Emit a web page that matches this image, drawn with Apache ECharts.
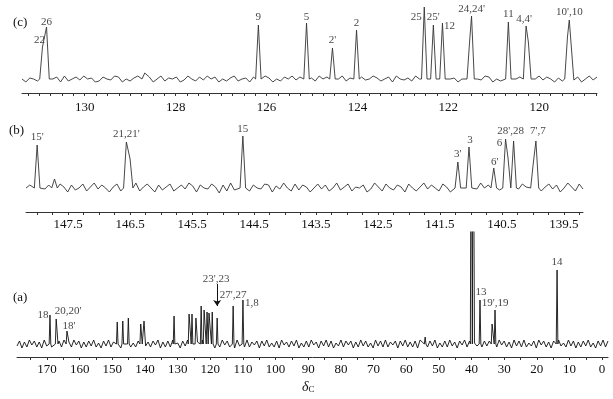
<!DOCTYPE html>
<html>
<head>
<meta charset="utf-8">
<script src="https://cdn.jsdelivr.net/npm/echarts@6/dist/echarts.min.js"></script>
<style>
  html, body { margin: 0; padding: 0; background: #fff; }
  #chart { width: 613px; height: 399px; }
</style>
</head>
<body>
<div id="chart"></div>
<script>
// ---- panel (c): 118.7 - 131.4 ppm ----
const cRange = [118.73, 131.38];
const cTickLabels = [130, 128, 126, 124, 122, 120];
const cPeaks = [
  [130.93, 32], [130.84, 52], [128.68, 6], [126.18, 54], [125.12, 56], [124.55, 31],
  [124.02, 49], [122.53, 72], [122.33, 54], [122.13, 56], [121.53, 39], [121.49, 63],
  [120.68, 57], [120.29, 53], [120.24, 37], [119.38, 42], [119.34, 59]
];
const cNames = ['22', '26', '', '9', '5', "2'", '2', '25', "25'", '12', '', "24,24'", '11', "4,4'", '', '', "10',10"];
const cNoise = [2,-1,3,0,-3,2,-1,0,3,-2,1,-3,0,2,-1,3,0,-2,1,-3,2,0,-2,3,1,-2,0,-3,2,3,-1,0,2,-2,3,0,-3,1,0,-2,
  2,3,-1,0,-3,2,0,3,-2,1,-1,0,3,-3,2,0,-2,1,3,0,-1,2,-3,0,1,-2,3,0,-1,-3,2,0,3,-2,1,0,-3,2,-1,3,
  0,2,-2,0,-3,1,3,-1,0,2,-3,1,0,-2,3,1,-2,0,-3,2,0,3,-1,2,-2,0,3,-1,-3,2,0,1,-2,3,0,-3,2,-1,0,3,
  1,-2,0,-3,2,3,-1,0,2,-2,-3,1,0,3,-1,2,0,-2,3,-3,2,0,-1,2,3,-2,0,1,-3,0];

// ---- panel (b): 139.2 - 148.2 ppm ----
const bRange = [139.19, 148.18];
const bTickLabels = [147.5, 146.5, 145.5, 144.5, 143.5, 142.5, 141.5, 140.5, 139.5];
const bPeaks = [
  [148.0, 43], [147.72, 9], [146.56, 46], [146.5, 29], [144.68, 52], [141.21, 26],
  [141.03, 41], [140.63, 20], [140.44, 49], [140.4, 30], [140.31, 47], [139.99, 26], [139.95, 47]
];
const bNames = ["15'", '', "21,21'", '', '15', "3'", '3', "6'", '6', '', "28',28", '', "7',7"];
const bNoise = [-1,4,-3,1,5,0,-4,3,-1,4,1,-3,3,0,-4,1,4,-1,3,-3,0,4,-2,1,-4,3,0,5,-1,2,-3,4,0,-2,3,-4,1,4,-3,0,
  3,-1,5,1,-3,0,4,-4,1,3,-2,0,4,-3,1,5,-1,-4,3,0,1,-3,4,1,-2,5,0,-3,3,-1,4,0,-4,1,3,-2,4,-3,0,5,
  -1,2,-4,3,4,-1,0,3,-3,1,4,0,-2,5,-3,3,-5,1,4,-1,0,3,-4,2,5,-1,3,0,-3,4,1,-2,3,-4,0,4,1,-3,5,0,
  -2,3,-3,4,1,-4,0,3,-1,5,1,-3,4,0,-2,3,-4,1,4,-3,0,3,-1,4,1,-3,3,0];

// ---- panel (a): full range ----
const aRange = [-1.8, 179.2];
const aTickLabels = [170, 160, 150, 140, 130, 120, 110, 100, 90, 80, 70, 60, 50, 40, 30, 20, 10, 0];
const aPeaks = [
  [169.1, 29], [167.2, 25], [166.9, 12], [163.9, 13], [148.5, 22], [146.8, 23], [145.1, 26],
  [141.3, 20], [140.6, 25], [140.3, 23], [131.1, 28], [126.5, 30], [125.6, 30], [124.4, 26],
  [122.8, 38], [121.9, 34], [121.0, 32], [120.4, 31], [119.4, 32], [117.9, 26], [113.0, 38],
  [110.0, 44], [54.2, 7], [40.1, 300], [39.5, 300], [37.4, 44], [33.7, 20], [32.8, 34], [13.8, 74]
];
const aNames = ['18', '20,20\'', '', "18'", '', '', '', '', '', '', '', '', '', '', '', '', '', '', '',
  "23',23", "27',27", '1,8', '', '', '', '13', '', "19',19", '14'];
const aNoise = [3,-3,4,-2,3,-4,1,-3,4,-2,3,-3,2,-4,3,-2,4,-3,1,-2,4,-3,3,-4,2,-3,3,-1,4,-4,3,-2,1,-3,4,-3,3,-2,4,-4,
  2,-3,3,-1,4,-3,2,-4,3,-2,3,-3,4,-2,1,-4,3,-3,4,-1,3,-4,2,-2,4,-3,3,-3,1,-4,4,-2,3,-3,2,-1,4,-4,3,-3,
  2,-3,4,-2,3,-4,3,-1,2,-3,4,-3,3,-2,4,-4,1,-3,3,-2,4,-3,2,-4,3,-1,3,-3,4,-2,1,-4,3,-3,4,-2,3,-4,2,-1,
  4,-3,3,-3,1,-4,4,-2,3,-3,2,-1,4,-4,3,-3,1,-3,4,-2,3,-4,3,-1,2,-3,4,-3,3,-2,4,-4,2,-3,3,-1,4,-3,1,-4,
  3,-2,3,-3,4,-1,2,-4,3,-3,4,-2,3,-4,1,-2,4,-3,3,-3,2,-4,4,-1,3,-3,2,-2,4,-4,3,-3,1,-3,4,-2,3,-4,3,-1,
  2,-3,4,-2,3,-4,1,-3,4,-2,3,-3,2,-4,3,-1,4,-3,2,-2,4,-3,3,-4,1,-3,3,-2,4,-4,2,-3,3,-1,4,-3,2,-4,3,-2];

const serif = 'Liberation Serif';

function buildTrace(range, noise, peaks, hw) {
  const step = (range[1] - range[0]) / (noise.length - 1);
  const pts = [];
  noise.forEach((v, i) => {
    const x = range[0] + i * step;
    if (!peaks.some(p => Math.abs(p[0] - x) < hw * 1.5)) pts.push([x, v]);
  });
  peaks.forEach((p, i) => {
    const others = peaks.filter((q, j) => j !== i);
    [p[0] - hw, p[0] + hw].forEach(x => {
      if (!others.some(q => Math.abs(q[0] - x) < hw)) pts.push([x, 0]);
    });
    pts.push([p[0], p[1]]);
  });
  pts.sort((a, b) => a[0] - b[0]);
  return pts;
}

function steps(from, to, step) {
  const out = [];
  for (let v = from; v <= to + 1e-9; v += step) out.push(+v.toFixed(3));
  return out;
}

// label nudges in pixels, keyed by label text
const shift = {
  '22': [-3, 1], '26': [0, 3], '5': [0, 2], '2': [0, 1], '25': [-8, 18], '12': [7, 11],
  "24,24'": [0, 1], "4,4'": [-2, 1],
  '15': [0, 1], '3': [1, 1], "6'": [1, 2], '6': [-6, 12], "28',28": [-3, -2], "7',7": [2, -2],
  '18': [-7, 8], "20,20'": [12, 0], "18'": [2, 3], "23',23": [-1, -31], "27',27": [0, -3],
  '1,8': [9, 11], '13': [1, 0], "19',19": [0, 1]
};

function labelData(peaks, names) {
  const out = [];
  peaks.forEach((p, i) => {
    if (!names[i]) return;
    const s = shift[names[i]] || [0, 0];
    out.push({ value: [p[0], Math.min(p[1], 200)], name: names[i], label: { offset: s } });
  });
  return out;
}

function xAxisFor(grid, range, labels, tickStep, margin) {
  return {
    gridIndex: grid, type: 'value', inverse: true, min: range[0], max: range[1],
    axisLine: { show: true, onZero: false, lineStyle: { color: '#333', width: 1 } },
    axisTick: { show: true, customValues: steps(Math.ceil(range[0] / tickStep) * tickStep, range[1], tickStep), length: 3, lineStyle: { color: '#333' } },
    axisLabel: { customValues: labels, fontFamily: serif, fontSize: 13, color: '#111', margin: margin },
    splitLine: { show: false }
  };
}

function labelSeries(idx, data) {
  return {
    type: 'scatter', xAxisIndex: idx, yAxisIndex: idx, symbolSize: 0, silent: true, data: data,
    label: { show: true, position: 'top', distance: 2, formatter: '{b}', fontFamily: serif, fontSize: 11, color: '#111' }
  };
}

const chart = echarts.init(document.getElementById('chart'));
chart.setOption({
  animation: false,
  backgroundColor: '#fff',
  grid: [
    { left: 22, right: 16, top: 2, height: 91 },
    { left: 26, right: 30, top: 112, height: 100 },
    { left: 17, right: 5, top: 232, height: 125 }
  ],
  xAxis: [
    xAxisFor(0, cRange, cTickLabels, 0.25, 8),
    xAxisFor(1, bRange, bTickLabels, 0.25, 6),
    xAxisFor(2, aRange, aTickLabels, 5, 6)
  ],
  yAxis: [
    { gridIndex: 0, min: -14, max: 77, show: false },
    { gridIndex: 1, min: -24, max: 76, show: false },
    { gridIndex: 2, min: -13, max: 112, show: false }
  ],
  series: [
    { type: 'line', xAxisIndex: 0, yAxisIndex: 0, showSymbol: false, silent: true,
      data: buildTrace(cRange, cNoise, cPeaks, 0.06), lineStyle: { color: '#333', width: 0.9 } },
    { type: 'line', xAxisIndex: 1, yAxisIndex: 1, showSymbol: false, silent: true,
      data: buildTrace(bRange, bNoise, bPeaks, 0.045), lineStyle: { color: '#333', width: 0.9 } },
    { type: 'line', xAxisIndex: 2, yAxisIndex: 2, showSymbol: false, silent: true,
      data: buildTrace(aRange, aNoise, aPeaks, 0.25), lineStyle: { color: '#111', width: 0.9 },
      markLine: {
        silent: true, symbol: ['none', 'arrow'], symbolSize: 6,
        lineStyle: { color: '#111', width: 1, type: 'solid' }, label: { show: false },
        data: [[{ coord: [117.9, 60] }, { coord: [117.9, 38] }]]
      } },
    labelSeries(0, labelData(cPeaks, cNames)),
    labelSeries(1, labelData(bPeaks, bNames)),
    labelSeries(2, labelData(aPeaks, aNames))
  ],
  graphic: [
    { type: 'text', left: 13, top: 16, style: { text: '(c)', font: '13px "Liberation Serif"', fill: '#111' } },
    { type: 'text', left: 9, top: 124, style: { text: '(b)', font: '13px "Liberation Serif"', fill: '#111' } },
    { type: 'text', left: 13, top: 291, style: { text: '(a)', font: '13px "Liberation Serif"', fill: '#111' } },
    { type: 'text', left: 302, top: 380, style: {
      text: '{d|δ}{s|C}',
      rich: {
        d: { fontFamily: serif, fontStyle: 'italic', fontSize: 14, fill: '#111', verticalAlign: 'bottom' },
        s: { fontFamily: serif, fontSize: 9, fill: '#111', padding: [6, 0, 0, 0], verticalAlign: 'bottom' }
      }
    } }
  ]
});
</script>
</body>
</html>
